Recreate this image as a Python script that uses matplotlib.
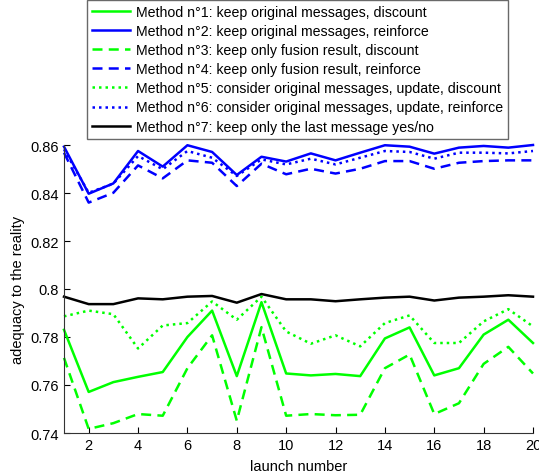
import matplotlib
matplotlib.use("Agg")
import matplotlib.pyplot as plt
import numpy as np

plt.rcParams['font.family'] = ['Liberation Sans', 'DejaVu Sans']

launch = list(range(1, 21))

m1 = [0.783, 0.7571, 0.7612, 0.7634, 0.7654, 0.780, 0.791, 0.7637, 0.7945, 0.7648,
      0.764, 0.7646, 0.7637, 0.7794, 0.784, 0.764, 0.767, 0.781, 0.7872, 0.7775]
m2 = [0.8593, 0.8397, 0.844, 0.8575, 0.851, 0.8599, 0.8571, 0.8475, 0.8551, 0.8531,
      0.8565, 0.8536, 0.8568, 0.8599, 0.8593, 0.8564, 0.8589, 0.8596, 0.8589, 0.860]
m3 = [0.7713, 0.7417, 0.7441, 0.7479, 0.7472, 0.767, 0.7807, 0.7451, 0.7841, 0.7472,
      0.7479, 0.7474, 0.7476, 0.767, 0.7727, 0.7479, 0.7524, 0.7688, 0.7759, 0.7648]
m4 = [0.8568, 0.836, 0.8401, 0.8515, 0.8461, 0.8536, 0.8526, 0.8429, 0.8522, 0.8478,
      0.8501, 0.8481, 0.8501, 0.8533, 0.8533, 0.8501, 0.8526, 0.8533, 0.8536, 0.8536]
m5 = [0.7886, 0.791, 0.7895, 0.7752, 0.7848, 0.7858, 0.7948, 0.7872, 0.7968, 0.7823,
      0.7772, 0.7807, 0.7761, 0.7858, 0.789, 0.7775, 0.7775, 0.7865, 0.7916, 0.7844]
m6 = [0.8582, 0.8401, 0.8439, 0.8554, 0.8499, 0.8575, 0.8547, 0.8471, 0.854, 0.8519,
      0.8543, 0.8519, 0.8547, 0.8575, 0.8571, 0.8543, 0.8568, 0.8568, 0.8565, 0.8575]
m7 = [0.7968, 0.7937, 0.7937, 0.7961, 0.7957, 0.7968, 0.7971, 0.7943, 0.7979, 0.7957,
      0.7957, 0.7949, 0.7957, 0.7964, 0.7968, 0.7952, 0.7964, 0.7968, 0.7974, 0.7968]

labels = [
    "Method n°1: keep original messages, discount",
    "Method n°2: keep original messages, reinforce",
    "Method n°3: keep only fusion result, discount",
    "Method n°4: keep only fusion result, reinforce",
    "Method n°5: consider original messages, update, discount",
    "Method n°6: consider original messages, update, reinforce",
    "Method n°7: keep only the last message yes/no",
]

xticks = [2, 4, 6, 8, 10, 12, 14, 16, 18, 20]
yticks = [0.74, 0.76, 0.78, 0.80, 0.82, 0.84, 0.86]
ytick_labels = ["0.74", "0.76", "0.78", "0.8", "0.82", "0.84", "0.86"]

fig = plt.figure(figsize=(5.39, 4.77), dpi=100)
ax = fig.add_axes([64/539, 1-434/477, (533-64)/539, (434-146)/477])

green = '#00ff00'
blue = '#0000ff'
lw = 1.8
dash = (0, (4, 2.5))
dot = (0, (1, 1.6))
series = [
    (m1, green, '-'),
    (m2, blue, '-'),
    (m3, green, dash),
    (m4, blue, dash),
    (m5, green, dot),
    (m6, blue, dot),
    (m7, 'black', '-'),
]
handles = []
for (vals, c, ls), lab in zip(series, labels):
    h, = ax.plot(launch, vals, color=c, linestyle=ls, linewidth=lw, label=lab, clip_on=False)
    handles.append(h)

ax.set_xlim(1, 20)
ax.set_ylim(0.74, 0.86)
ax.set_xticks(xticks)
ax.set_yticks(yticks)
ax.set_yticklabels(ytick_labels)
ax.tick_params(direction='in', labelsize=10.5, length=4, colors='black')
ax.spines['top'].set_visible(False)
ax.spines['right'].set_visible(False)
for s in ['left', 'bottom']:
    ax.spines[s].set_color('#333333')
ax.set_xlabel("launch number", fontsize=10.5, labelpad=5)
ax.set_ylabel("adequacy to the reality", fontsize=10.5, labelpad=4)

leg = fig.legend(handles=handles, labels=labels, loc='upper left',
                 bbox_to_anchor=(87/539, 1 - 1/477), borderaxespad=0,
                 fontsize=10.2, handlelength=2.7, handletextpad=0.4,
                 labelspacing=0.36, borderpad=0.35, fancybox=False,
                 frameon=True, edgecolor='#444444')
leg.get_frame().set_linewidth(1.0)

fig.savefig("out.png", dpi=100)
